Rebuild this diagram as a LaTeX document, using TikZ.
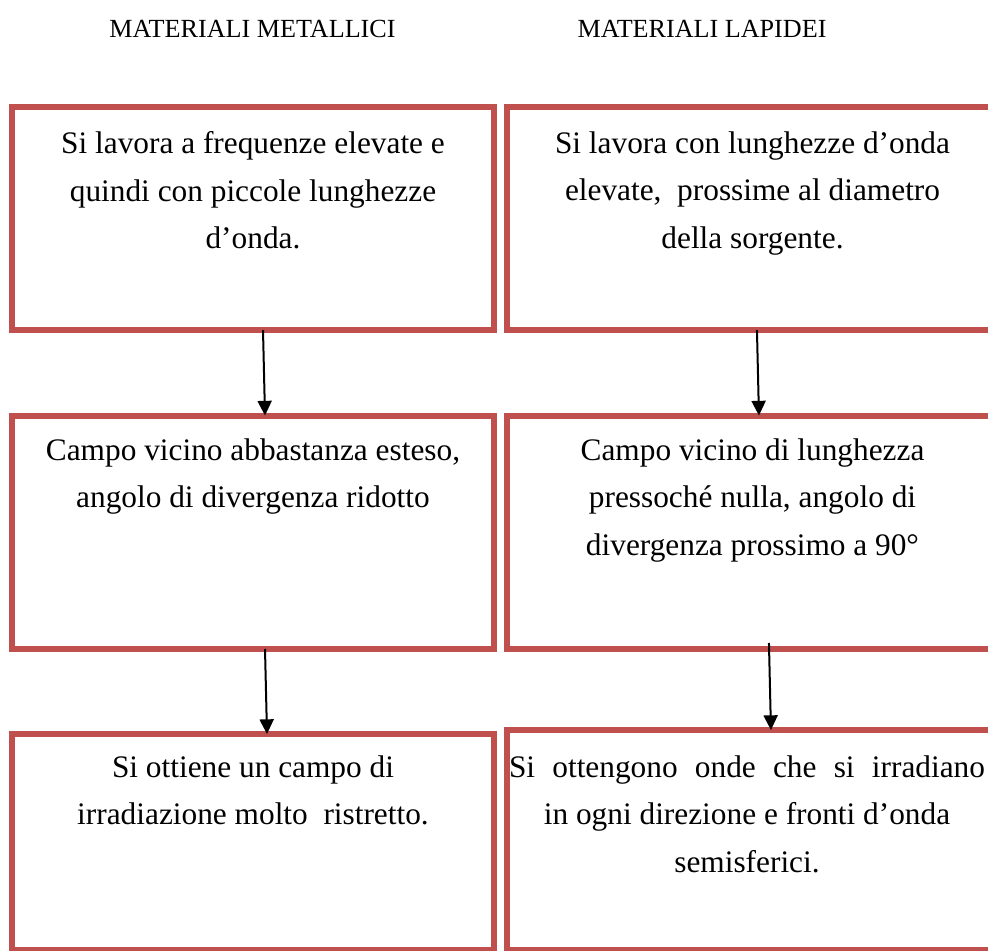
\documentclass[tikz,border=0pt]{standalone}
\usepackage{fontspec}
\setmainfont{Liberation Serif}
\usetikzlibrary{arrows.meta,positioning}
\definecolor{boxRed}{RGB}{192,80,77}

\begin{document}
\begin{tikzpicture}[x=0.75pt,y=-0.75pt,>={Triangle[width=10.5pt,length=11pt]},
  box/.style={draw=boxRed,line width=4.5pt,outer sep=0pt,minimum width=361.5pt},
  rbox/.style={box,minimum width=363.4pt},
  txt/.style={align=center,inner sep=0pt,anchor=north,
    font=\fontsize{23.5}{35.6}\selectfont},
  head/.style={inner sep=0pt,anchor=base,font=\fontsize{19.6}{24}\selectfont},
  link/.style={->,line width=1.5pt}]
\useasboundingbox (0,0) rectangle (988,950);
\clip (0,0) rectangle (988,950);
% titoli
\node[head] (hl) at (252.5,37) {MATERIALI METALLICI};
\node[head] (hr) at (702,37) {MATERIALI LAPIDEI};
% riquadri
\node[box,minimum height=166.9pt] (l1) at (253,218.75) {};
\node[box,minimum height=175.1pt] (l2) at (253,532.25) {};
\node[box,minimum height=162pt] (l3) at (253,842) {};
\node[rbox,minimum height=166.9pt] (r1) at (749.75,218.75) {};
\node[rbox,minimum height=175.1pt] (r2) at (749.75,532.25) {};
\node[rbox,minimum height=165pt] (r3) at (749.75,840) {};
% testi
\node[txt] (l1t) at (253,131.5) {Si lavora a frequenze elevate e\\quindi con piccole lunghezze\\d’onda.};
\node[txt] (r1t) at (752.5,131.5) {Si lavora con lunghezze d’onda\\elevate,~ prossime al diametro\\della sorgente.};
\node[txt] (l2t) at (253,438.5) {Campo vicino abbastanza esteso,\\angolo di divergenza ridotto};
\node[txt] (r2t) at (752.5,438.5) {Campo vicino di lunghezza\\pressoché nulla, angolo di\\divergenza prossimo a 90°};
\node[txt] (l3t) at (253,755.5) {Si ottiene un campo di\\irradiazione molto~ ristretto.};
\node[txt] (r3t) at (747,755.5) {\makebox[357pt][s]{Si ottengono onde che si irradiano}\\in ogni direzione e fronti d’onda\\semisferici.};
% frecce
\draw[link] ([xshift=7.5pt]l1.south) -- ([xshift=9pt]l2.north);
\draw[link] ([xshift=9pt]l2.south) -- ([xshift=10.5pt]l3.north);
\draw[link] ([xshift=5.4pt]r1.south) -- ([xshift=6.9pt]r2.north);
\draw[link] ([xshift=14.4pt,yshift=4.5pt]r2.south) -- ([xshift=15.9pt]r3.north);
\end{tikzpicture}
\end{document}
